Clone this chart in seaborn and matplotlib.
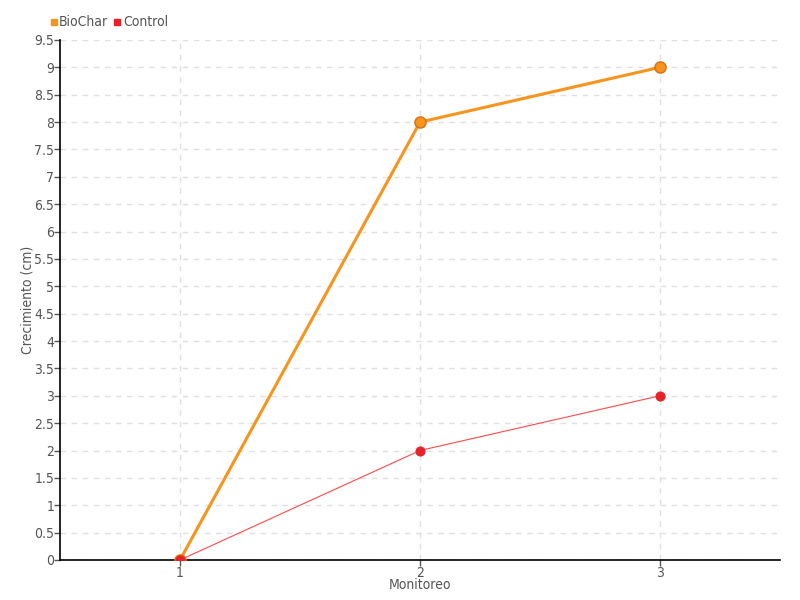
import matplotlib
matplotlib.use("Agg")
import matplotlib.pyplot as plt
import seaborn as sns
import pandas as pd
from matplotlib.lines import Line2D

monitoreo = [1, 2, 3]
biochar = [0, 8, 9]
control = [0, 2, 3]
y_ticks = [0, 0.5, 1, 1.5, 2, 2.5, 3, 3.5, 4, 4.5, 5, 5.5, 6, 6.5, 7, 7.5, 8, 8.5, 9, 9.5]
y_tick_labels = ["0", "0.5", "1", "1.5", "2", "2.5", "3", "3.5", "4", "4.5", "5", "5.5",
                 "6", "6.5", "7", "7.5", "8", "8.5", "9", "9.5"]

sns.set_style("white")
plt.rcParams['font.family'] = ['DejaVu Sans']
plt.rcParams['font.stretch'] = 'condensed'
plt.rcParams['font.weight'] = 'light'

df_b = pd.DataFrame({"Monitoreo": monitoreo, "Crecimiento": biochar})
df_c = pd.DataFrame({"Monitoreo": monitoreo, "Crecimiento": control})

fig = plt.figure(figsize=(8, 6), dpi=100)
ax = fig.add_axes([0.075, 0.0667, 0.9, 0.8667])

orange = "#f7941d"
red = "#e8202a"

sns.lineplot(data=df_b, x="Monitoreo", y="Crecimiento", ax=ax, color=orange, linewidth=2.2,
             marker="o", markersize=8, markeredgecolor="#d9731a", markeredgewidth=1.1, zorder=3)
sns.lineplot(data=df_c, x="Monitoreo", y="Crecimiento", ax=ax, color="#ff4a4a", linewidth=0.8,
             marker="o", markersize=6.5, markerfacecolor=red, markeredgecolor=red, zorder=4)

ax.set_xlim(0.5, 3.5)
ax.set_ylim(0, 9.5)
ax.set_xticks(monitoreo)
ax.set_xticklabels([str(m) for m in monitoreo])
ax.set_yticks(y_ticks)
ax.set_yticklabels(y_tick_labels)

ax.grid(True, color="#e0e0e0", linestyle=(0, (4, 4)), linewidth=1)
ax.set_axisbelow(True)
for s in ["top", "right"]:
    ax.spines[s].set_visible(False)
ax.spines["left"].set_color("black")
ax.spines["bottom"].set_color("black")
ax.spines["left"].set_linewidth(1.2)
ax.spines["bottom"].set_linewidth(1.2)

ax.tick_params(axis="both", colors="#555555", labelsize=10, length=4, width=1, direction="out",
               left=True, bottom=True)
ax.tick_params(axis="y", pad=0)
ax.tick_params(axis="x", pad=0)
for lab in ax.get_xticklabels() + ax.get_yticklabels():
    lab.set_color("#555555")

ax.set_xlabel("Monitoreo", color="#555555", fontsize=10, labelpad=-1)
ax.set_ylabel("Crecimiento (cm)", color="#555555", fontsize=10)
ax.yaxis.set_label_coords(-0.036, 0.5)

handles = [
    Line2D([], [], linestyle="none", marker="s", markersize=4.5, color=orange),
    Line2D([], [], linestyle="none", marker="s", markersize=4.5, color=red),
]
fig.legend(handles, ["BioChar", "Control"], loc="upper left", bbox_to_anchor=(0.047, 0.995),
           ncol=2, frameon=False, fontsize=10, handlelength=0.5, handletextpad=0.15,
           columnspacing=0.4, labelcolor="#555555")

fig.savefig("out.png", dpi=100)
